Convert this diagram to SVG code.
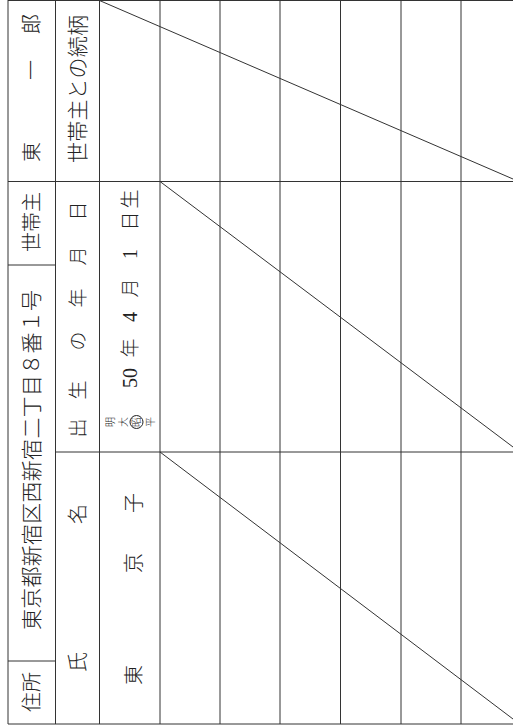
<svg xmlns="http://www.w3.org/2000/svg" width="513" height="728" viewBox="0 0 513 728">
<style>
.ln{stroke:#333;stroke-width:1;fill:none}
.t{font-family:"Liberation Serif","Noto Sans CJK JP",serif;font-weight:300;fill:#222;text-anchor:middle;dominant-baseline:central}
.d{font-family:"Liberation Serif",serif;font-weight:400}
.f20{font-size:20px}
.f19{font-size:19px}
.f21{font-size:21px}
.f10{font-size:10px}
</style>
<rect width="513" height="728" fill="#fff"/>
<g id="grid">
<line class="ln" x1="8" y1="0.5" x2="513" y2="0.5"/>
<line class="ln" x1="8" y1="724" x2="513" y2="724"/>
<line class="ln" x1="8" y1="0" x2="8" y2="724"/>
<line class="ln" x1="55.5" y1="0" x2="55.5" y2="724"/>
<line class="ln" x1="99.5" y1="0" x2="99.5" y2="724"/>
<line class="ln" x1="160" y1="0" x2="160" y2="724"/>
<line class="ln" x1="220" y1="0" x2="220" y2="724"/>
<line class="ln" x1="280" y1="0" x2="280" y2="724"/>
<line class="ln" x1="340.5" y1="0" x2="340.5" y2="724"/>
<line class="ln" x1="401" y1="0" x2="401" y2="724"/>
<line class="ln" x1="461" y1="0" x2="461" y2="724"/>
<line class="ln" x1="8" y1="181.5" x2="513" y2="181.5"/>
<line class="ln" x1="55.5" y1="452" x2="513" y2="452"/>
<line class="ln" x1="8" y1="265" x2="55.5" y2="265"/>
<line class="ln" x1="8" y1="661" x2="55.5" y2="661"/>
</g>
<g id="connectors">
<line class="ln" x1="99.5" y1="0.5" x2="513" y2="179"/>
<line class="ln" x1="160" y1="181.5" x2="513" y2="447"/>
<line class="ln" x1="160" y1="452" x2="513" y2="719"/>
</g>
<g id="head-name">
<text class="t f20" transform="translate(32,152) rotate(-90)">東</text>
<text class="t f20" transform="translate(32,70) rotate(-90)">一</text>
<text class="t f20" transform="translate(32,24) rotate(-90)">郎</text>
</g>
<g id="head-label">
<text class="t f20" transform="translate(32,222) rotate(-90)">世帯主</text>
</g>
<g id="address">
<text class="t f21" transform="translate(32,460) rotate(-90)" textLength="340" lengthAdjust="spacing">東京都新宿区西新宿二丁目８番１号</text>
</g>
<g id="address-label">
<text class="t f20" transform="translate(32,692) rotate(-90)">住所</text>
</g>
<g id="relation-label">
<text class="t f21" transform="translate(78,89) rotate(-90)" textLength="148" lengthAdjust="spacing">世帯主との続柄</text>
</g>
<g id="birth-label">
<text class="t f19" transform="translate(78,428) rotate(-90)">出</text>
<text class="t f19" transform="translate(78,390) rotate(-90)">生</text>
<text class="t f19" transform="translate(78,341) rotate(-90)">の</text>
<text class="t f19" transform="translate(78,298) rotate(-90)">年</text>
<text class="t f19" transform="translate(78,256) rotate(-90)">月</text>
<text class="t f19" transform="translate(78,211) rotate(-90)">日</text>
</g>
<g id="name-label">
<text class="t f20" transform="translate(78,662) rotate(-90)">氏</text>
<text class="t f20" transform="translate(78,514) rotate(-90)">名</text>
</g>
<g id="birth-date">
<text class="t f10" transform="translate(110,422) rotate(-90)">明</text>
<text class="t f10" transform="translate(123,422) rotate(-90)">大</text>
<circle cx="136.5" cy="422" r="6.5" fill="none" stroke="#222" stroke-width="1"/>
<text class="t f10" transform="translate(136.5,422) rotate(-90)">昭</text>
<text class="t f10" transform="translate(150,422) rotate(-90)">平</text>
<text class="t d f20" transform="translate(130,378) rotate(-90)">50</text>
<text class="t f19" transform="translate(130,348) rotate(-90)">年</text>
<text class="t d f20" transform="translate(130,317) rotate(-90)">4</text>
<text class="t f19" transform="translate(130,288) rotate(-90)">月</text>
<text class="t d f20" transform="translate(130,254) rotate(-90)">1</text>
<text class="t f19" transform="translate(130,221) rotate(-90)">日</text>
<text class="t f19" transform="translate(130,199) rotate(-90)">生</text>
</g>
<g id="person-name">
<text class="t f20" transform="translate(134,675) rotate(-90)">東</text>
<text class="t f20" transform="translate(134,563) rotate(-90)">京</text>
<text class="t f20" transform="translate(134,503) rotate(-90)">子</text>
</g>
</svg>
